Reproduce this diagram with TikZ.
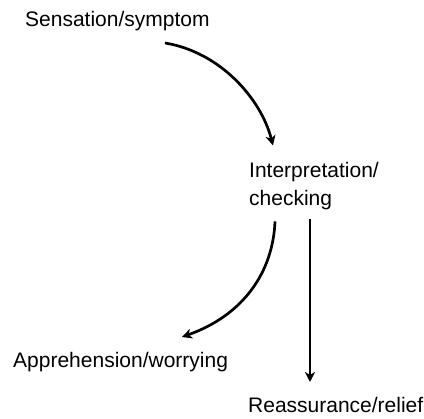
\documentclass[tikz,border=0pt]{standalone}
\usepackage{fontspec}
\setmainfont{Liberation Sans}
\usetikzlibrary{arrows.meta}
\begin{document}
\begin{tikzpicture}[x=1pt,y=-1pt,
  label text/.style={inner sep=0pt, font=\fontsize{21}{28}\selectfont, align=left},
  flow/.style={line width=2.7pt, -{Stealth[length=10pt,width=10pt,inset=3pt]}}]
  \useasboundingbox (0,0) rectangle (424,419);
  \node[label text, anchor=base west] (sens) at (25,27) {Sensation/symptom};
  \node[label text, anchor=north west] (interp) at (249,162.5) {Interpretation/\\checking};
  \node[label text, anchor=base west] (appr) at (13,368) {Apprehension/worrying};
  \node[label text, anchor=base west] (reas) at (248,413) {Reassurance/relief};
  % sensation leads to interpretation
  \draw[flow] ([xshift=140pt,yshift=-16pt]sens.base west)
    .. controls +(55,9) and +(-12,-47) .. ([xshift=24pt,yshift=17pt]interp.north west);
  % interpretation leads to worry
  \draw[flow] ([xshift=26pt,yshift=-11pt]interp.south west)
    .. controls +(-2,50) and +(62,-22) .. ([xshift=169pt,yshift=31pt]appr.base west);
  % interpretation leads to relief
  \draw[flow] ([xshift=61pt,yshift=-9pt]interp.south west) -- ([xshift=62pt,yshift=31pt]reas.base west);
\end{tikzpicture}
\end{document}
